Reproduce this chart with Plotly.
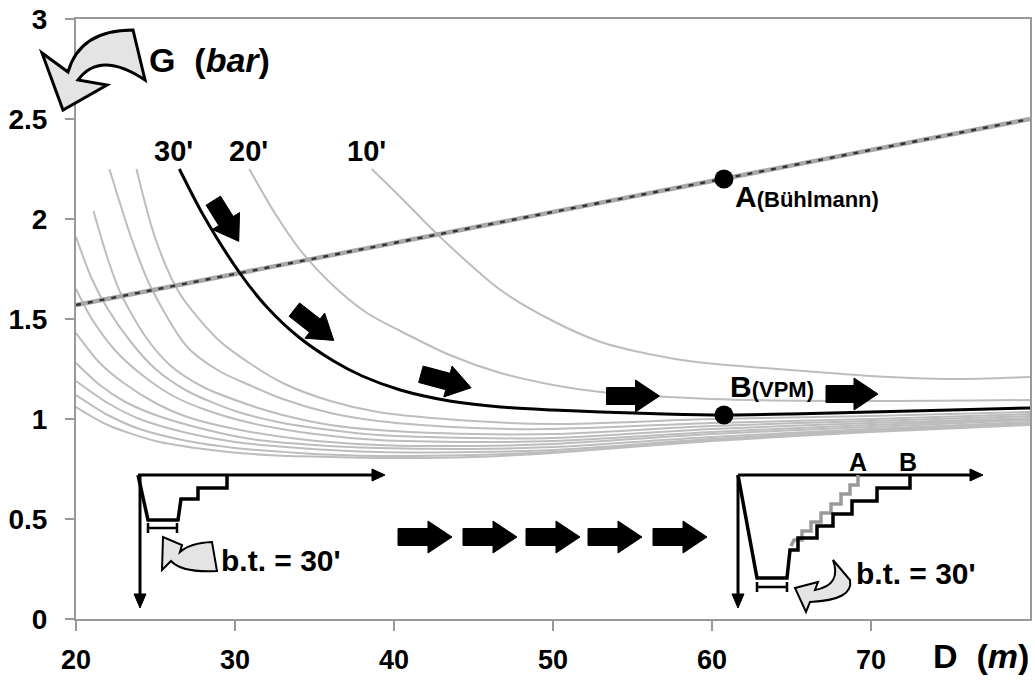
import re
import math
import plotly.graph_objects as go

# ---------------- data ----------------
# Bühlmann gradient-factor line (dashed)
buhl_x = [20, 80]
buhl_y = [1.57, 2.50]

# 10' curve
c10_x = [38.6, 40.4, 42.9, 46.7, 50, 53, 56, 59, 65, 70, 75, 80]
c10_y = [2.25, 2.11, 1.91, 1.645, 1.49, 1.385, 1.325, 1.285, 1.245, 1.215, 1.2, 1.21]
# 20' curve
c20_x = [30.9, 32.5, 34.1, 36, 38.3, 40.4, 43.5, 46.7, 50, 53, 60, 70, 80]
c20_y = [2.25, 2.03, 1.845, 1.68, 1.53, 1.44, 1.32, 1.23, 1.17, 1.135, 1.1, 1.09, 1.095]
# 30' curve (black, VPM)
c30_x = [26.5, 28, 30.3, 32, 34, 36.2, 38, 40.4, 43.5, 46.7, 50, 53, 57, 60.75, 65, 70, 75, 80]
c30_y = [2.25, 2.02, 1.73, 1.56, 1.41, 1.29, 1.215, 1.145, 1.09, 1.06, 1.045, 1.035, 1.025, 1.02, 1.025, 1.035, 1.045, 1.055]
# longer bottom times
c40_x = [23.8, 25, 26.5, 28.9, 30.9, 33, 36, 39, 45, 50, 60, 70, 80]
c40_y = [2.25, 1.90, 1.63, 1.40, 1.28, 1.18, 1.09, 1.035, 0.99, 0.975, 1.0, 1.015, 1.035]
c50_x = [22.1, 23.5, 24.7, 27, 29, 30.9, 33, 36, 39, 45, 50, 60, 70, 80]
c50_y = [2.25, 1.9, 1.66, 1.36, 1.24, 1.17, 1.1, 1.03, 0.99, 0.955, 0.95, 0.98, 1.0, 1.025]
c60_x = [21.1, 22, 22.8, 24.3, 25.9, 28, 30.9, 33, 36, 39, 45, 50, 60, 70, 80]
c60_y = [2.04, 1.8, 1.63, 1.42, 1.27, 1.16, 1.07, 1.02, 0.97, 0.945, 0.925, 0.925, 0.965, 0.99, 1.015]
c70_x = [20, 21, 22, 23.5, 25, 27, 30, 33, 36, 39, 45, 50, 60, 70, 80]
c70_y = [1.91, 1.70, 1.55, 1.38, 1.25, 1.14, 1.04, 0.98, 0.945, 0.92, 0.905, 0.905, 0.95, 0.98, 1.005]
c80_x = [20, 21, 22.5, 24, 26, 28, 31, 35, 39, 45, 50, 60, 70, 80]
c80_y = [1.65, 1.50, 1.34, 1.23, 1.12, 1.05, 0.98, 0.925, 0.895, 0.885, 0.89, 0.935, 0.97, 1.0]
c90_x = [20, 21.5, 23, 25, 27, 30, 34, 39, 45, 50, 60, 70, 80]
c90_y = [1.43, 1.28, 1.18, 1.08, 1.01, 0.95, 0.9, 0.87, 0.865, 0.875, 0.925, 0.96, 0.995]
c100_x = [20, 21.5, 23, 25, 28, 31, 35, 39, 45, 50, 60, 70, 80]
c100_y = [1.28, 1.17, 1.09, 1.02, 0.95, 0.9, 0.87, 0.855, 0.85, 0.86, 0.91, 0.95, 0.985]
c110_x = [20, 22, 24, 27, 30, 34, 39, 45, 50, 60, 70, 80]
c110_y = [1.19, 1.08, 1.0, 0.93, 0.885, 0.855, 0.835, 0.835, 0.845, 0.9, 0.945, 0.98]
c120_x = [20, 22, 24, 27, 30, 34, 39, 45, 50, 60, 70, 80]
c120_y = [1.12, 1.02, 0.95, 0.89, 0.855, 0.83, 0.815, 0.82, 0.835, 0.895, 0.94, 0.975]
c130_x = [20, 22, 25, 28, 32, 36, 40, 45, 50, 60, 70, 80]
c130_y = [1.06, 0.97, 0.89, 0.85, 0.82, 0.81, 0.805, 0.81, 0.83, 0.89, 0.935, 0.97]

# highlighted points A (Bühlmann) and B (VPM)
pt_x = [60.75, 60.75]
pt_y = [2.20, 1.02]

x_ticks = [20, 30, 40, 50, 60, 70]
y_ticks = [0, 0.5, 1, 1.5, 2, 2.5, 3]
y_ticktext = ["0", "0.5", "1", "1.5", "2", "2.5", "3"]
curve_labels = ["30'", "20'", "10'"]

# ---------------- layout geometry ----------------
W, H = 1035, 684
ML, MR, MT, MB = 76, 5, 19, 65
PW = W - ML - MR
PH = H - MT - MB
FONT = "Liberation Sans, Arial, sans-serif"
GRAY = "#bdbdbd"


def pp(px, py):
    return (px - ML) / PW, (H - MB - py) / PH


def path_px(s):
    def rep(m):
        x, y = pp(float(m.group(1)), float(m.group(2)))
        return f"{x:.5f},{y:.5f}"
    return re.sub(r"(-?\d+\.?\d*),(-?\d+\.?\d*)", rep, s)


fig = go.Figure()

gray_curves = [(c130_x, c130_y), (c120_x, c120_y), (c110_x, c110_y), (c100_x, c100_y),
               (c90_x, c90_y), (c80_x, c80_y), (c70_x, c70_y), (c60_x, c60_y),
               (c50_x, c50_y), (c40_x, c40_y), (c20_x, c20_y), (c10_x, c10_y)]
for cx, cy in gray_curves:
    fig.add_trace(go.Scatter(x=cx, y=cy, mode="lines",
                             line=dict(color=GRAY, width=2, shape="spline", smoothing=0.8),
                             hoverinfo="skip", showlegend=False))

# Bühlmann dashed line
fig.add_trace(go.Scatter(x=buhl_x, y=buhl_y, mode="lines", line=dict(color="#a8a8a8", width=4.5),
                         hoverinfo="skip", showlegend=False))
fig.add_trace(go.Scatter(x=buhl_x, y=buhl_y, mode="lines", line=dict(color="#333333", width=2.4, dash="5px,7px"),
                         hoverinfo="skip", showlegend=False))

# black 30' curve
fig.add_trace(go.Scatter(x=c30_x, y=c30_y, mode="lines",
                         line=dict(color="black", width=3, shape="spline", smoothing=0.8),
                         hoverinfo="skip", showlegend=False))

# points A and B
fig.add_trace(go.Scatter(x=pt_x, y=pt_y, mode="markers", marker=dict(color="black", size=19),
                         hoverinfo="skip", showlegend=False, cliponaxis=False))

shapes = []


def add_path(s, fill=None, color="black", width=3):
    d = dict(type="path", path=path_px(s), xref="paper", yref="paper",
             line=dict(color=color, width=width))
    if fill:
        d["fillcolor"] = fill
    shapes.append(d)


# big curved arrow near y axis title
add_path("M 133,30 Q 80,30 68,72 L 42,53 L 63,110 L 107,85 L 78,80 Q 100,50 145,80 Z", fill="#e4e4e4", width=3)

# block arrows (cx, cy, length, angle)
flow_arrows = [(226, 221, 48, 58), (314, 325, 50, 38), (446, 381, 52, 15), (633, 396, 53, 0), (852, 394, 52, 0),
               (425, 537, 54, 0), (490, 537, 54, 0), (553, 537, 54, 0), (615, 537, 54, 0), (680, 537, 54, 0)]


def block_arrow(cx, cy, L, ang, bt=8.5, hw=16, hl=24):
    pts = [(-L / 2, -bt), (L / 2 - hl, -bt), (L / 2 - hl, -hw), (L / 2, 0), (L / 2 - hl, hw),
           (L / 2 - hl, bt), (-L / 2, bt)]
    a = math.radians(ang)
    out = [(cx + u * math.cos(a) - v * math.sin(a), cy + u * math.sin(a) + v * math.cos(a)) for u, v in pts]
    s = "M " + " L ".join(f"{x:.2f},{y:.2f}" for x, y in out) + " Z"
    add_path(s, fill="black", width=1)


for a in flow_arrows:
    block_arrow(*a)

# ---- left inset dive profile ----
add_path("M 138,475 L 374,475", width=3)
add_path("M 372,469 L 385,475 L 372,481 Z", fill="black", width=1)
add_path("M 140,475 L 140,597", width=3)
add_path("M 134,594 L 140,608 L 146,594 Z", fill="black", width=1)
add_path("M 138,475 L 148,520 L 178,520 L 181,499 L 198,499 L 198,488 L 227,488 L 227,475", width=3.5)
add_path("M 148,528 L 177,528 M 148,523 L 148,533 M 177,523 L 177,533", width=2.5)
add_path("M 212,542 Q 190,543 180,552 L 182,545 L 163,537 L 162,570 L 171,561 Q 182,573 217,571 Z",
         fill="#e4e4e4", width=2)

# ---- right inset dive profile ----
add_path("M 738,475 L 972,475", width=3)
add_path("M 970,469 L 983,475 L 970,481 Z", fill="black", width=1)
add_path("M 738,475 L 738,596", width=3)
add_path("M 732,594 L 738,608 L 744,594 Z", fill="black", width=1)
add_path("M 791,546 L 794,540 L 802,540 L 802,531 L 811,531 L 811,522 L 821,522 L 821,513 L 831,513 L 831,504 "
         "L 841,504 L 841,494 L 850,494 L 850,485 L 858,485 L 858,475", color="#9a9a9a", width=3.5)
add_path("M 738,475 L 757,578 L 787,578 L 790,550 L 798,550 L 798,538 L 817,538 L 817,526 L 833,526 L 833,514 "
         "L 852,514 L 852,501 L 877,501 L 877,488 L 910,488 L 910,475", width=3.5)
add_path("M 757,587 L 787,587 M 757,582 L 757,592 M 787,582 L 787,592", width=2.5)
add_path("M 833,560 Q 842,585 815,590 L 818,582 L 795,588 L 806,612 L 810,602 Q 854,600 850,580 Z",
         fill="#e4e4e4", width=2)

annotations = []


def ann(px, py, text, size, xanchor="center"):
    x, y = pp(px, py)
    annotations.append(dict(x=x, y=y, xref="paper", yref="paper", text=text, showarrow=False,
                            xanchor=xanchor, yanchor="middle",
                            font=dict(family=FONT, size=size, color="black")))


ann(147, 60, "<b>G  (<i>bar</i>)</b>", 34, "left")
ann(1031, 656, "<b>D  (<i>m</i>)</b>", 34, "right")
for lbl, px in zip(curve_labels, [173, 248, 366]):
    ann(px, 151, f"<b>{lbl}</b>", 29)
ann(733, 197, "<b>A<span style='font-size:22px'>(Bühlmann)</span></b>", 30, "left")
ann(728, 386, "<b>B<span style='font-size:22px'>(VPM)</span></b>", 30, "left")
ann(858, 462, "<b>A</b>", 25)
ann(908, 462, "<b>B</b>", 25)
ann(219, 560, "<b>b.t. = 30'</b>", 30, "left")
ann(854, 573, "<b>b.t. = 30'</b>", 30, "left")

fig.update_layout(
    width=W, height=H,
    margin=dict(l=ML, r=MR, t=MT, b=MB, pad=0, autoexpand=False),
    paper_bgcolor="white", plot_bgcolor="white",
    shapes=shapes, annotations=annotations,
    showlegend=False,
    font=dict(family=FONT, color="black"),
    xaxis=dict(range=[20, 80], tickvals=x_ticks, ticks="outside", ticklen=10, tickwidth=1.5, tickcolor="#999",
               showline=True, linecolor="#999", linewidth=2, mirror=True, showgrid=False, zeroline=False,
               automargin=False,
               tickfont=dict(family=FONT, size=27, color="black", weight="bold"), ticklabelstandoff=6),
    yaxis=dict(range=[0, 3], tickvals=y_ticks, ticktext=y_ticktext, ticks="outside", ticklen=9, tickwidth=1.5,
               tickcolor="#999", showline=True, linecolor="#999", linewidth=2, mirror=True, showgrid=False,
               zeroline=False, automargin=False,
               tickfont=dict(family=FONT, size=28, color="black", weight="bold"),
               ticklabelstandoff=12),
)

fig.write_html("out.html", config={"displayModeBar": False},
               post_script="document.body.style.margin='0';document.body.style.overflow='hidden';")
